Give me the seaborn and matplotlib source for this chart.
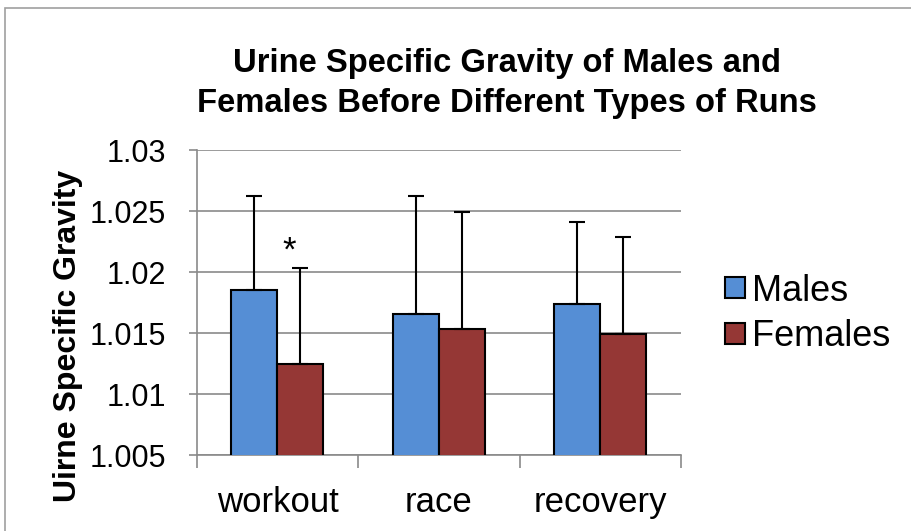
import seaborn as sns
import pandas as pd
import matplotlib.pyplot as plt
from matplotlib.patches import Rectangle
from matplotlib.ticker import FixedLocator

# data
runs = ['workout', 'race', 'recovery']
males = [1.0185, 1.0166, 1.0174]
females = [1.0125, 1.0153, 1.0149]
males_sd = [0.0077, 0.0096, 0.0067]
females_sd = [0.0078, 0.0096, 0.0080]
yticks = [1.005, 1.01, 1.015, 1.02, 1.025, 1.03]
ytick_labels = ['1.005', '1.01', '1.015', '1.02', '1.025', '1.03']

df = pd.DataFrame({
    'run': runs * 2,
    'sex': ['Males'] * 3 + ['Females'] * 3,
    'usg': males + females,
    'sd': males_sd + females_sd,
})

sns.set_style('white')
plt.rcParams['font.family'] = ['Liberation Sans', 'DejaVu Sans']
plt.rcParams['text.color'] = 'black'
plt.rcParams['axes.labelcolor'] = 'black'
plt.rcParams['xtick.labelcolor'] = 'black'
plt.rcParams['ytick.labelcolor'] = 'black'

fig = plt.figure(figsize=(9.11, 5.31), dpi=100)
ax = fig.add_axes([0.216, 0.143, 0.5315, 0.5745])

palette = {'Males': '#558ED5', 'Females': '#953735'}
sns.barplot(data=df, x='run', y='usg', hue='sex', order=runs,
            hue_order=['Males', 'Females'], palette=palette, width=0.57,
            gap=0, errorbar=None, edgecolor='black', linewidth=1.5,
            saturation=1, ax=ax, zorder=3)

# upward-only error bars at each bar's centre
bars = [p for p in ax.patches if p.get_height() > 0][:6]
for p, err in zip(bars, males_sd + females_sd):
    xc = p.get_x() + p.get_width() / 2
    ax.errorbar(xc, p.get_height(), yerr=[[0], [err]], fmt='none',
                ecolor='black', elinewidth=1.5, capsize=5.5, capthick=1.5,
                zorder=4)

# significance marker
ax.text(0.07, 1.0217, '*', ha='center', va='center', fontsize=25)

ax.set_ylim(1.005, 1.03)
ax.set_xlim(-0.5, 2.5)
ax.set_yticks(yticks)
ax.set_yticklabels(ytick_labels)
ax.yaxis.grid(True, color='#8a8a8a', linewidth=1.2, zorder=0)
ax.set_axisbelow(True)
for s in ['top', 'right']:
    ax.spines[s].set_visible(False)
for s in ['left', 'bottom']:
    ax.spines[s].set_color('#8a8a8a')
    ax.spines[s].set_linewidth(1.2)

ax.tick_params(axis='y', which='major', left=True, length=6, width=1.2,
               color='#8a8a8a', labelsize=22, pad=16)
ax.tick_params(axis='x', which='major', bottom=False, labelsize=25, pad=19)
ax.xaxis.set_minor_locator(FixedLocator([-0.5, 0.5, 1.5, 2.5]))
ax.tick_params(axis='x', which='minor', bottom=True, length=9, width=1.2,
               color='#8a8a8a')

ax.set_xlabel('')
ax.set_ylabel('Uirne Specific Gravity', fontsize=23, fontweight='bold')
ax.yaxis.set_label_coords(-0.236, 0.39)

ax.legend(loc='center left', bbox_to_anchor=(725 / 911, 1 - 314 / 531),
          bbox_transform=fig.transFigure, frameon=False, fontsize=26,
          handlelength=0.55, handleheight=0.52, handletextpad=0.2,
          labelspacing=0.3, borderpad=0, borderaxespad=0)

fig.text(0.556, 0.91, 'Urine Specific Gravity of Males and\nFemales Before Different Types of Runs',
         ha='center', va='top', fontsize=23.6, fontweight='bold', linespacing=1.4)

fig.patches.append(Rectangle((0.006, -0.01), 1.0, 0.995, transform=fig.transFigure,
                             fill=False, edgecolor='#a0a0a0', linewidth=1.2))

fig.savefig('out.png', dpi=100)
